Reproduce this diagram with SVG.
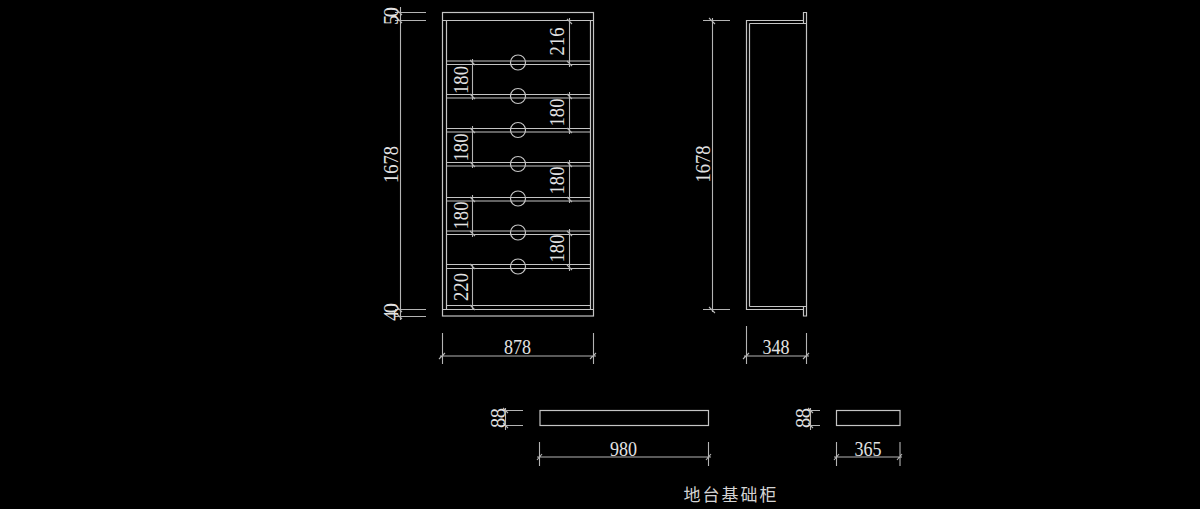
<svg xmlns="http://www.w3.org/2000/svg" width="1200" height="509" viewBox="0 0 1200 509">
<style>
.l{fill:none;stroke:#c4c4c4;stroke-width:1.2}
.d{fill:none;stroke:#b4b4b4;stroke-width:1.1}
text{fill:#e2e2e2;font-family:"Liberation Serif",serif;font-size:20.500px;text-anchor:middle}
.cn{font-family:"Noto Sans CJK SC",sans-serif;font-size:17px;letter-spacing:2px;fill:#d4d4d4}
</style>
<rect width="1200" height="509" fill="#000"/>
<g id="cabinet-front" class="l">
<rect x="442.500" y="12.500" width="151" height="303.500"/>
<path d="M442.500 20.500H593.500M446.500 20.500V309M590.500 20.500V309M442.500 309.500H593.500M446.500 305.500H590.500"/>
<path d="M446.500 61H590.500M446.500 64.500H590.500M446.500 94.500H590.500M446.500 98H590.500M446.500 128.500H590.500M446.500 132H590.500M446.500 162.500H590.500M446.500 166H590.500M446.500 197.500H590.500M446.500 201H590.500M446.500 231H590.500M446.500 234.500H590.500M446.500 264.500H590.500M446.500 268.500H590.500"/>
<circle cx="518" cy="62.500" r="7.500"/><circle cx="518" cy="96" r="7.500"/><circle cx="518" cy="130" r="7.500"/><circle cx="518" cy="164" r="7.500"/><circle cx="518" cy="198.500" r="7.500"/><circle cx="518" cy="232.500" r="7.500"/><circle cx="518" cy="266.500" r="7.500"/>
</g>
<g id="cabinet-side" class="l">
<path d="M746.500 20.500H803.500V12.500H806.500V316H803.500V309.500H746.500ZM749.500 23.500H806.500M749.500 23.500V306.500M749.500 306.500H806.500M803.500 20.500V23.500M803.500 306.500V309.500"/>
</g>
<g id="plinth-front" class="l"><rect x="540" y="410.500" width="168.500" height="15"/></g>
<g id="plinth-side" class="l"><rect x="836.500" y="410.500" width="63.500" height="15"/></g>
<g id="connectors" class="d">
<path d="M400.500 7V320M395 12.500H426M395 20.500H426M395 309.500H426M395 316.500H426M396 9l6 6M396 17l6 6M396 306l6 6M396 313l6 6"/>
<path d="M569.500 18V67M472.500 59V100M569.500 92V134M472.500 126V168M569.500 160V203M472.500 195V237M569.500 229V271M472.500 264V310"/>
<path d="M567 19l5 5M567 61l5 5M470 60l5 5M470 94l5 5M567 94l5 5M567 128l5 5M470 128l5 5M470 162l5 5M567 162l5 5M567 197l5 5M470 197l5 5M470 231l5 5M567 231l5 5M567 265l5 5M470 264l5 5M470 305l5 5"/>
<path d="M712.500 18V312M703 20.500H730M703 309.500H730M709 18l6 6M709 307l6 6"/>
<path d="M442.500 333V364M593.500 333V364M440 356H596M439 359l6 -6M590 359l6 -6"/>
<path d="M746.500 326V364M806.500 333V364M744 356H809M743 359l6 -6M803 359l6 -6"/>
<path d="M505.500 408V430M503 410.500H523M503 425.500H523M503 408l5 5M503 423l5 5"/>
<path d="M539.500 442V466M708.500 442V466M537 457H711M537 460l5 -6M706 460l5 -6"/>
<path d="M810.500 408V430M808 410.500H820M808 425.500H820M808 408l5 5M808 423l5 5"/>
<path d="M836.500 442V466M900 442V466M834 457H902M834 460l5 -6M897 460l5 -6"/>
</g>
<g id="labels">
<text transform="translate(398 16) rotate(-90)" textLength="18" lengthAdjust="spacing">50</text>
<text transform="translate(398 164.500) rotate(-90)" textLength="37" lengthAdjust="spacingAndGlyphs">1678</text>
<text transform="translate(398 312) rotate(-90)" textLength="18" lengthAdjust="spacing">40</text>
<text transform="translate(564 41.500) rotate(-90)" textLength="28" lengthAdjust="spacingAndGlyphs">216</text>
<text transform="translate(467.500 80) rotate(-90)" textLength="28" lengthAdjust="spacingAndGlyphs">180</text>
<text transform="translate(564 112.500) rotate(-90)" textLength="28" lengthAdjust="spacingAndGlyphs">180</text>
<text transform="translate(467.500 147.500) rotate(-90)" textLength="28" lengthAdjust="spacingAndGlyphs">180</text>
<text transform="translate(564 180.500) rotate(-90)" textLength="28" lengthAdjust="spacingAndGlyphs">180</text>
<text transform="translate(467.500 215.500) rotate(-90)" textLength="28" lengthAdjust="spacingAndGlyphs">180</text>
<text transform="translate(564 248.500) rotate(-90)" textLength="28" lengthAdjust="spacingAndGlyphs">180</text>
<text transform="translate(467.500 287) rotate(-90)" textLength="28" lengthAdjust="spacingAndGlyphs">220</text>
<text transform="translate(710 164) rotate(-90)" textLength="37" lengthAdjust="spacingAndGlyphs">1678</text>
<text x="517.500" y="354" textLength="27" lengthAdjust="spacingAndGlyphs">878</text>
<text x="776" y="354" textLength="27" lengthAdjust="spacingAndGlyphs">348</text>
<text transform="translate(504.500 418) rotate(-90)" textLength="20" lengthAdjust="spacing">88</text>
<text x="623.500" y="456" textLength="27" lengthAdjust="spacingAndGlyphs">980</text>
<text transform="translate(809.500 418) rotate(-90)" textLength="20" lengthAdjust="spacing">88</text>
<text x="868" y="456" textLength="27" lengthAdjust="spacingAndGlyphs">365</text>
<text class="cn" x="731" y="500.500">地台基础柜</text>
</g>
</svg>
